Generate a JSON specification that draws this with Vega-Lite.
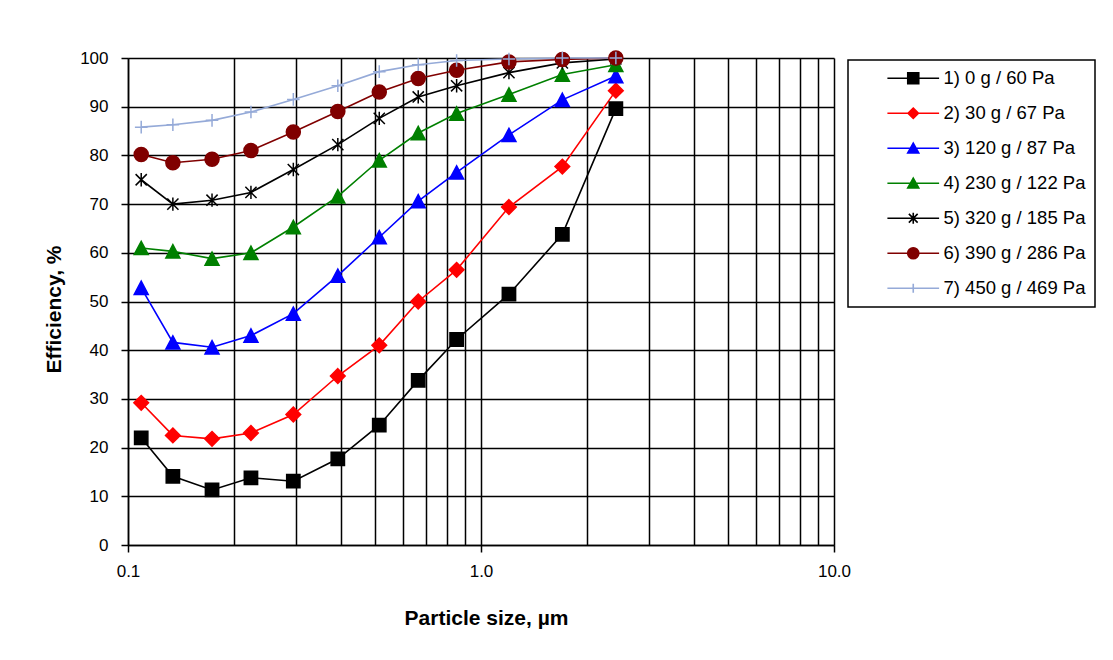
{
  "$schema": "https://vega.github.io/schema/vega-lite/v6.json",
  "width": 706,
  "height": 487,
  "autosize": {"type": "none"},
  "padding": {"left": 128, "top": 58, "right": 279, "bottom": 115},
  "background": "white",
  "config": {
    "font": "Liberation Sans",
    "view": {"stroke": null}
  },
  "data": {
    "values": [
      {"series": "1) 0 g / 60 Pa", "x": 0.109, "y": 22.0},
      {"series": "1) 0 g / 60 Pa", "x": 0.134, "y": 14.1},
      {"series": "1) 0 g / 60 Pa", "x": 0.173, "y": 11.3},
      {"series": "1) 0 g / 60 Pa", "x": 0.223, "y": 13.8},
      {"series": "1) 0 g / 60 Pa", "x": 0.294, "y": 13.1},
      {"series": "1) 0 g / 60 Pa", "x": 0.393, "y": 17.7},
      {"series": "1) 0 g / 60 Pa", "x": 0.515, "y": 24.6},
      {"series": "1) 0 g / 60 Pa", "x": 0.664, "y": 33.8},
      {"series": "1) 0 g / 60 Pa", "x": 0.853, "y": 42.2},
      {"series": "1) 0 g / 60 Pa", "x": 1.2, "y": 51.5},
      {"series": "1) 0 g / 60 Pa", "x": 1.7, "y": 63.8},
      {"series": "1) 0 g / 60 Pa", "x": 2.41, "y": 89.6},
      {"series": "2) 30 g / 67 Pa", "x": 0.109, "y": 29.2},
      {"series": "2) 30 g / 67 Pa", "x": 0.134, "y": 22.5},
      {"series": "2) 30 g / 67 Pa", "x": 0.173, "y": 21.8},
      {"series": "2) 30 g / 67 Pa", "x": 0.223, "y": 23.0},
      {"series": "2) 30 g / 67 Pa", "x": 0.294, "y": 26.8},
      {"series": "2) 30 g / 67 Pa", "x": 0.393, "y": 34.7},
      {"series": "2) 30 g / 67 Pa", "x": 0.515, "y": 41.0},
      {"series": "2) 30 g / 67 Pa", "x": 0.664, "y": 50.0},
      {"series": "2) 30 g / 67 Pa", "x": 0.853, "y": 56.5},
      {"series": "2) 30 g / 67 Pa", "x": 1.2, "y": 69.4},
      {"series": "2) 30 g / 67 Pa", "x": 1.7, "y": 77.7},
      {"series": "2) 30 g / 67 Pa", "x": 2.41, "y": 93.3},
      {"series": "3) 120 g / 87 Pa", "x": 0.109, "y": 52.8},
      {"series": "3) 120 g / 87 Pa", "x": 0.134, "y": 41.6},
      {"series": "3) 120 g / 87 Pa", "x": 0.173, "y": 40.6},
      {"series": "3) 120 g / 87 Pa", "x": 0.223, "y": 43.0},
      {"series": "3) 120 g / 87 Pa", "x": 0.294, "y": 47.5},
      {"series": "3) 120 g / 87 Pa", "x": 0.393, "y": 55.3},
      {"series": "3) 120 g / 87 Pa", "x": 0.515, "y": 63.2},
      {"series": "3) 120 g / 87 Pa", "x": 0.664, "y": 70.6},
      {"series": "3) 120 g / 87 Pa", "x": 0.853, "y": 76.5},
      {"series": "3) 120 g / 87 Pa", "x": 1.2, "y": 84.2},
      {"series": "3) 120 g / 87 Pa", "x": 1.7, "y": 91.4},
      {"series": "3) 120 g / 87 Pa", "x": 2.41, "y": 96.3},
      {"series": "4) 230 g / 122 Pa", "x": 0.109, "y": 61.0},
      {"series": "4) 230 g / 122 Pa", "x": 0.134, "y": 60.3},
      {"series": "4) 230 g / 122 Pa", "x": 0.173, "y": 58.8},
      {"series": "4) 230 g / 122 Pa", "x": 0.223, "y": 60.0},
      {"series": "4) 230 g / 122 Pa", "x": 0.294, "y": 65.3},
      {"series": "4) 230 g / 122 Pa", "x": 0.393, "y": 71.6},
      {"series": "4) 230 g / 122 Pa", "x": 0.515, "y": 79.0},
      {"series": "4) 230 g / 122 Pa", "x": 0.664, "y": 84.6},
      {"series": "4) 230 g / 122 Pa", "x": 0.853, "y": 88.6},
      {"series": "4) 230 g / 122 Pa", "x": 1.2, "y": 92.5},
      {"series": "4) 230 g / 122 Pa", "x": 1.7, "y": 96.6},
      {"series": "4) 230 g / 122 Pa", "x": 2.41, "y": 98.6},
      {"series": "5) 320 g / 185 Pa", "x": 0.109, "y": 75.0},
      {"series": "5) 320 g / 185 Pa", "x": 0.134, "y": 70.0},
      {"series": "5) 320 g / 185 Pa", "x": 0.173, "y": 70.8},
      {"series": "5) 320 g / 185 Pa", "x": 0.223, "y": 72.4},
      {"series": "5) 320 g / 185 Pa", "x": 0.294, "y": 77.1},
      {"series": "5) 320 g / 185 Pa", "x": 0.393, "y": 82.2},
      {"series": "5) 320 g / 185 Pa", "x": 0.515, "y": 87.6},
      {"series": "5) 320 g / 185 Pa", "x": 0.664, "y": 92.0},
      {"series": "5) 320 g / 185 Pa", "x": 0.853, "y": 94.3},
      {"series": "5) 320 g / 185 Pa", "x": 1.2, "y": 97.0},
      {"series": "5) 320 g / 185 Pa", "x": 1.7, "y": 99.0},
      {"series": "5) 320 g / 185 Pa", "x": 2.41, "y": 99.8},
      {"series": "6) 390 g / 286 Pa", "x": 0.109, "y": 80.2},
      {"series": "6) 390 g / 286 Pa", "x": 0.134, "y": 78.5},
      {"series": "6) 390 g / 286 Pa", "x": 0.173, "y": 79.2},
      {"series": "6) 390 g / 286 Pa", "x": 0.223, "y": 81.0},
      {"series": "6) 390 g / 286 Pa", "x": 0.294, "y": 84.8},
      {"series": "6) 390 g / 286 Pa", "x": 0.393, "y": 89.0},
      {"series": "6) 390 g / 286 Pa", "x": 0.515, "y": 93.0},
      {"series": "6) 390 g / 286 Pa", "x": 0.664, "y": 95.8},
      {"series": "6) 390 g / 286 Pa", "x": 0.853, "y": 97.5},
      {"series": "6) 390 g / 286 Pa", "x": 1.2, "y": 99.2},
      {"series": "6) 390 g / 286 Pa", "x": 1.7, "y": 99.7},
      {"series": "6) 390 g / 286 Pa", "x": 2.41, "y": 100.0},
      {"series": "7) 450 g / 469 Pa", "x": 0.109, "y": 85.8},
      {"series": "7) 450 g / 469 Pa", "x": 0.134, "y": 86.3},
      {"series": "7) 450 g / 469 Pa", "x": 0.173, "y": 87.2},
      {"series": "7) 450 g / 469 Pa", "x": 0.223, "y": 88.9},
      {"series": "7) 450 g / 469 Pa", "x": 0.294, "y": 91.5},
      {"series": "7) 450 g / 469 Pa", "x": 0.393, "y": 94.3},
      {"series": "7) 450 g / 469 Pa", "x": 0.515, "y": 97.2},
      {"series": "7) 450 g / 469 Pa", "x": 0.664, "y": 98.6},
      {"series": "7) 450 g / 469 Pa", "x": 0.853, "y": 99.5},
      {"series": "7) 450 g / 469 Pa", "x": 1.2, "y": 99.8},
      {"series": "7) 450 g / 469 Pa", "x": 1.7, "y": 100.0},
      {"series": "7) 450 g / 469 Pa", "x": 2.41, "y": 100.0}
    ]
  },
  "encoding": {
    "x": {
      "field": "x",
      "type": "quantitative",
      "scale": {"type": "log", "domain": [0.1, 10], "nice": false},
      "axis": {
        "title": "Particle size, µm",
        "titleFont": "Liberation Sans",
        "titleFontSize": 21,
        "titleFontWeight": "bold",
        "titleColor": "black",
        "titlePadding": 28,
        "titleX": 358,
        "values": [0.1, 0.2, 0.3, 0.4, 0.5, 0.6, 0.7, 0.8, 0.9, 1, 2, 3, 4, 5, 6, 7, 8, 9, 10],
        "labelExpr": "datum.value == 0.1 || datum.value == 1 || datum.value == 10 ? format(datum.value, '.1f') : ''",
        "labelOverlap": false,
        "labelFlush": false,
        "labelFontSize": 17,
        "labelColor": "black",
        "labelPadding": 11,
        "tickSize": 7,
        "tickColor": "black",
        "tickWidth": 1.5,
        "tickOpacity": {"condition": {"test": "datum.value == 0.1 || datum.value == 1 || datum.value == 10", "value": 1}, "value": 0},
        "domainColor": "black",
        "domainWidth": 1.5,
        "grid": true,
        "gridColor": "black",
        "gridWidth": 1.5,
        "gridOpacity": 1
      }
    },
    "y": {
      "field": "y",
      "type": "quantitative",
      "scale": {"domain": [0, 100], "nice": false},
      "axis": {
        "title": "Efficiency, %",
        "titleFont": "Liberation Sans",
        "titleFontSize": 21,
        "titleFontWeight": "bold",
        "titleColor": "black",
        "titlePadding": 15,
        "titleY": 251,
        "values": [0, 10, 20, 30, 40, 50, 60, 70, 80, 90, 100],
        "labelFontSize": 17,
        "labelColor": "black",
        "labelPadding": 13,
        "tickSize": 7,
        "tickColor": "black",
        "tickWidth": 1.5,
        "domainColor": "black",
        "domainWidth": 1.5,
        "grid": true,
        "gridColor": "black",
        "gridWidth": 1.5,
        "gridOpacity": 1
      }
    }
  },
  "layer": [
    {
      "mark": {"type": "line", "strokeWidth": 1.6},
      "encoding": {
        "color": {
          "field": "series",
          "type": "nominal",
          "scale": {
            "domain": ["1) 0 g / 60 Pa", "2) 30 g / 67 Pa", "3) 120 g / 87 Pa", "4) 230 g / 122 Pa", "5) 320 g / 185 Pa", "6) 390 g / 286 Pa", "7) 450 g / 469 Pa"],
            "range": ["#000000", "#FF0000", "#0000FF", "#008000", "#000000", "#800000", "#95AAD8"]
          },
          "legend": {
            "orient": "none",
            "legendX": 720,
            "legendY": 2,
            "title": null,
            "padding": 9,
            "strokeColor": "black",
            "fillColor": "white",
            "labelFontSize": 18.5,
            "labelColor": "black",
            "labelFont": "Liberation Sans",
            "symbolSize": 121,
            "symbolStrokeWidth": 1.6,
            "symbolOffset": 47,
            "labelOffset": 21,
            "rowPadding": 16,
            "labelLimit": 300,
            "encode": {
              "legend": {"update": {"strokeWidth": {"value": 1.5}}},
              "symbols": {
                "update": {
                  "shape": {"signal": "['M-4.7,0H4.7M-1,-1H1V1H-1Z','M-4.7,0H4.7M0,-0.95L0.95,0L0,0.95L-0.95,0Z','M-4.7,0H4.7M0,-0.95L1,0.85H-1Z','M-4.7,0H4.7M0,-0.95L1,0.85H-1Z','M-4.7,0H4.7M-0.8,-0.8L0.8,0.8M-0.8,0.8L0.8,-0.8M0,-1V1','M-4.7,0H4.7M-1,0A1,1,0,1,0,1,0A1,1,0,1,0,-1,0Z','M-4.7,0H4.7M0,-0.8V0.8'][indexof(domain('color'), datum.value)]"},
                  "size": {"value": 121},
                  "fill": {"signal": "scale('color', datum.value)"},
                  "stroke": {"signal": "scale('color', datum.value)"},
                  "strokeWidth": {"value": 1.6},
                  "opacity": {"value": 1},
                  "fillOpacity": {"value": 1},
                  "strokeOpacity": {"value": 1}
                }
              }
            }
          }
        }
      }
    },
    {
      "mark": {
        "type": "point",
        "filled": true,
        "size": 196,
        "strokeWidth": 1.5,
        "opacity": 1,
        "stroke": {"expr": "scale('color', datum.series)"},
        "shape": {"expr": "['M-0.95,-0.95H0.95V0.95H-0.95Z','M0,-1.05L1.05,0L0,1.05L-1.05,0Z','M0,-0.95L1,0.95H-1Z','M0,-0.95L1,0.95H-1Z','M-0.8,-0.8L0.8,0.8M-0.8,0.8L0.8,-0.8M0,-0.95V0.95','M-1,0A1,1,0,1,0,1,0A1,1,0,1,0,-1,0Z','M-0.9,0H0.9M0,-0.9V0.9'][indexof(domain('color'), datum.series)]"}
      },
      "encoding": {
        "color": {"field": "series", "type": "nominal"}
      }
    }
  ]
}
